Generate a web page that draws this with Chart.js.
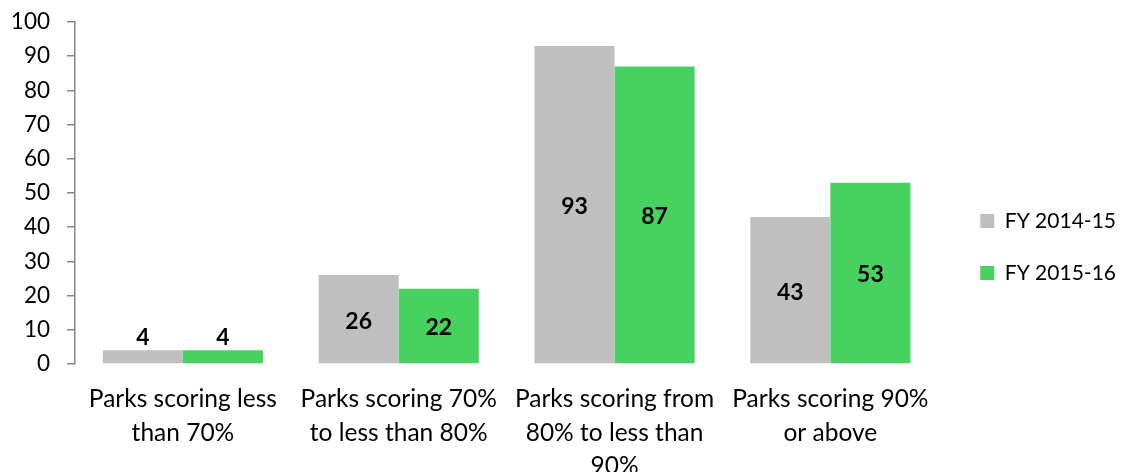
<!DOCTYPE html>
<html>
<head>
<meta charset="utf-8">
<script src="https://cdn.jsdelivr.net/npm/chart.js@4.4.1/dist/chart.umd.min.js"></script>
<style>
    html, body { margin: 0; padding: 0; background: #ffffff; }
    #wrap { width: 1126px; height: 472px; }
</style>
</head>
<body>
<div id="wrap"><canvas id="chart" width="1126" height="472"></canvas></div>
<script>
const categories = [
    ['Parks scoring less', 'than 70%'],
    ['Parks scoring 70%', 'to less than 80%'],
    ['Parks scoring from', '80% to less than', '90%'],
    ['Parks scoring 90%', 'or above']
];
const seriesNames = ['FY 2014-15', 'FY 2015-16'];
const fy1415 = [4, 26, 93, 43];
const fy1516 = [4, 22, 87, 53];
const yTicksMax = 100;
const yTickStep = 10;

const FONT = 'Lato';
const TEXT = '#000000';
const AXIS = '#868686';
const SIZE = 24.5;
const NUM_SIZE = 22.5;

Chart.defaults.font.family = FONT;
Chart.defaults.color = TEXT;

// value labels: centred in the bar, above it when the bar is too short
const valueLabels = {
    id: 'valueLabels',
    afterDatasetsDraw(chart) {
        const ctx = chart.ctx;
        ctx.save();
        ctx.font = 'bold 23px ' + FONT;
        ctx.fillStyle = TEXT;
        ctx.textAlign = 'center';
        chart.data.datasets.forEach((ds, i) => {
            chart.getDatasetMeta(i).data.forEach((bar, j) => {
                const h = bar.base - bar.y;
                if (h < 30) {
                    ctx.textBaseline = 'bottom';
                    ctx.fillText(ds.data[j], bar.x, bar.y - 1);
                } else {
                    ctx.textBaseline = 'middle';
                    ctx.fillText(ds.data[j], bar.x, (bar.y + bar.base) / 2 + 2);
                }
            });
        });
        ctx.restore();
    }
};

// push the legend a little further from the plot, like the original
const legendShift = {
    id: 'legendShift',
    afterLayout(chart) {
        chart.legend.left += 11;
        chart.legend.right += 11;
    }
};

new Chart(document.getElementById('chart'), {
    type: 'bar',
    data: {
        labels: categories,
        datasets: [
            {
                label: seriesNames[0],
                data: fy1415,
                backgroundColor: '#BFBFBF',
                categoryPercentage: 0.742,
                barPercentage: 1.0
            },
            {
                label: seriesNames[1],
                data: fy1516,
                backgroundColor: '#47D15F',
                categoryPercentage: 0.742,
                barPercentage: 1.0
            }
        ]
    },
    options: {
        responsive: false,
        devicePixelRatio: 1,
        animation: false,
        layout: { padding: { top: 22, right: 11, left: 0, bottom: 0 } },
        plugins: {
            legend: {
                position: 'right',
                labels: {
                    boxWidth: 14,
                    boxHeight: 14,
                    padding: 31,
                    color: TEXT,
                    font: { size: 21 }
                }
            },
            tooltip: { enabled: false }
        },
        scales: {
            x: {
                grid: { display: false, drawTicks: false },
                border: { display: false },
                ticks: {
                    color: TEXT,
                    padding: 19,
                    maxRotation: 0,
                    autoSkip: false,
                    font: { size: SIZE, lineHeight: 1.35 }
                },
                afterFit: (s) => { s.height = 108; }
            },
            y: {
                min: 0,
                max: yTicksMax,
                grid: {
                    drawOnChartArea: false,
                    drawTicks: true,
                    tickLength: 8,
                    color: AXIS,
                    lineWidth: 1.5
                },
                border: { display: true, color: AXIS, width: 1.5 },
                ticks: {
                    stepSize: yTickStep,
                    color: TEXT,
                    padding: 17,
                    font: { size: NUM_SIZE }
                },
                afterFit: (s) => {
                    s.width = 75;
                    s.paddingTop = 0;
                    s.paddingBottom = 0;
                }
            }
        }
    },
    plugins: [valueLabels, legendShift]
});
</script>
</body>
</html>
